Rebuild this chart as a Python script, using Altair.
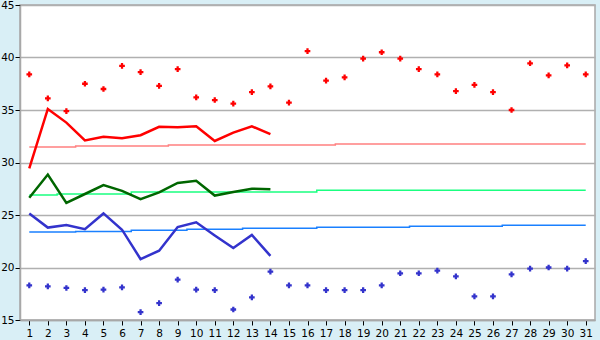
import altair as alt
import pandas as pd

days = list(range(1, 32))
tmax_obs = [38.4, 36.1, 34.9, 37.5, 37.0, 39.2, 38.6, 37.3, 38.9, 36.2,
            35.95, 35.6, 36.7, 37.25, 35.7, 40.6, 37.8, 38.1, 39.9, 40.5,
            39.9, 38.9, 38.4, 36.8, 37.4, 36.7, 35.0, 39.45, 38.3, 39.25, 38.4]
tmin_obs = [18.3, 18.2, 18.05, 17.85, 17.9, 18.1, 15.75, 16.6, 18.85, 17.9,
            17.85, 16.0, 17.15, 19.6, 18.3, 18.3, 17.85, 17.85, 17.85, 18.3,
            19.45, 19.45, 19.7, 19.15, 17.25, 17.25, 19.35, 19.9, 20.0, 19.9, 20.6]
days14 = list(range(1, 15))
max_line = [29.45, 35.1, 33.8, 32.1, 32.45, 32.3, 32.6, 33.4, 33.35, 33.45,
            32.05, 32.85, 33.45, 32.7]
mean_line = [26.65, 28.85, 26.15, 27.0, 27.85, 27.3, 26.5, 27.15, 28.05, 28.25,
             26.85, 27.2, 27.5, 27.45]
min_line = [25.15, 23.8, 24.05, 23.65, 25.15, 23.6, 20.8, 21.6, 23.85, 24.3,
            23.05, 21.85, 23.1, 21.1]
norm_max = [31.48] * 3 + [31.57] * 5 + [31.67] * 9 + [31.76] * 14
norm_mean = [26.9] * 2 + [27.0] * 4 + [27.18] * 10 + [27.35] * 15
norm_min = [23.38] * 3 + [23.44] * 3 + [23.54] * 3 + [23.64] * 3 + [23.73] * 4 + [23.83] * 5 + [23.92] * 5 + [24.02] * 5
y_ticks = [15, 20, 25, 30, 35, 40, 45]

FONT = "DejaVu Sans"
FS = 10.5

xscale = alt.Scale(domain=[0.5, 31.5], nice=False, zero=False)
yscale = alt.Scale(domain=[15, 45], nice=False, zero=False)

xaxis = alt.Axis(values=days, title=None, grid=False, domain=True, domainColor="#a8a8a8",
                 domainWidth=1.5, ticks=True, tickColor="#000000", tickSize=5, labelFont=FONT,
                 labelFontSize=FS, labelColor="#000000", labelPadding=3, labelFlush=False,
                 labelOverlap=False)
yaxis = alt.Axis(values=y_ticks, title=None, grid=True, gridColor="#b0b0b0",
                 gridWidth=1.5, domain=True, domainColor="#a8a8a8", domainWidth=1.5, ticks=True,
                 tickColor="#000000", tickSize=5, labelFont=FONT, labelFontSize=FS,
                 labelColor="#000000", labelPadding=1)

X = alt.X("day:Q", scale=xscale, axis=xaxis)
Y = alt.Y("v:Q", scale=yscale, axis=yaxis)


def df(xs, ys):
    return pd.DataFrame({"day": xs, "v": ys})


def line(xs, ys, color, width, interp="linear"):
    return alt.Chart(df(xs, ys)).mark_line(color=color, strokeWidth=width, interpolate=interp).encode(
        x=X, y=Y)


def pts(xs, ys, color):
    return alt.Chart(df(xs, ys)).mark_point(shape="cross", filled=True, size=32, color=color,
                                            opacity=1).encode(x=X, y=Y)


chart = alt.layer(
    line(days, norm_max, "#ff8080", 1.5, "step"),
    line(days, norm_mean, "#1aff80", 1.5, "step"),
    line(days, norm_min, "#1a80ff", 1.5, "step"),
    line(days14, max_line, "#ff0000", 2.5),
    line(days14, mean_line, "#006600", 2.5),
    line(days14, min_line, "#3333cc", 2.5),
    pts(days, tmax_obs, "#ff0000"),
    pts(days, tmin_obs, "#3333cc"),
).properties(
    width=575, height=315,
    background="#d9eff6",
    padding={"left": 20, "top": 5, "right": 5, "bottom": 20},
    autosize=alt.AutoSizeParams(type="none"),
).configure_view(
    fill="#ffffff", stroke="#a8a8a8", strokeWidth=1.5
)

chart.save("out.html", embed_options={"renderer": "svg", "actions": False})
